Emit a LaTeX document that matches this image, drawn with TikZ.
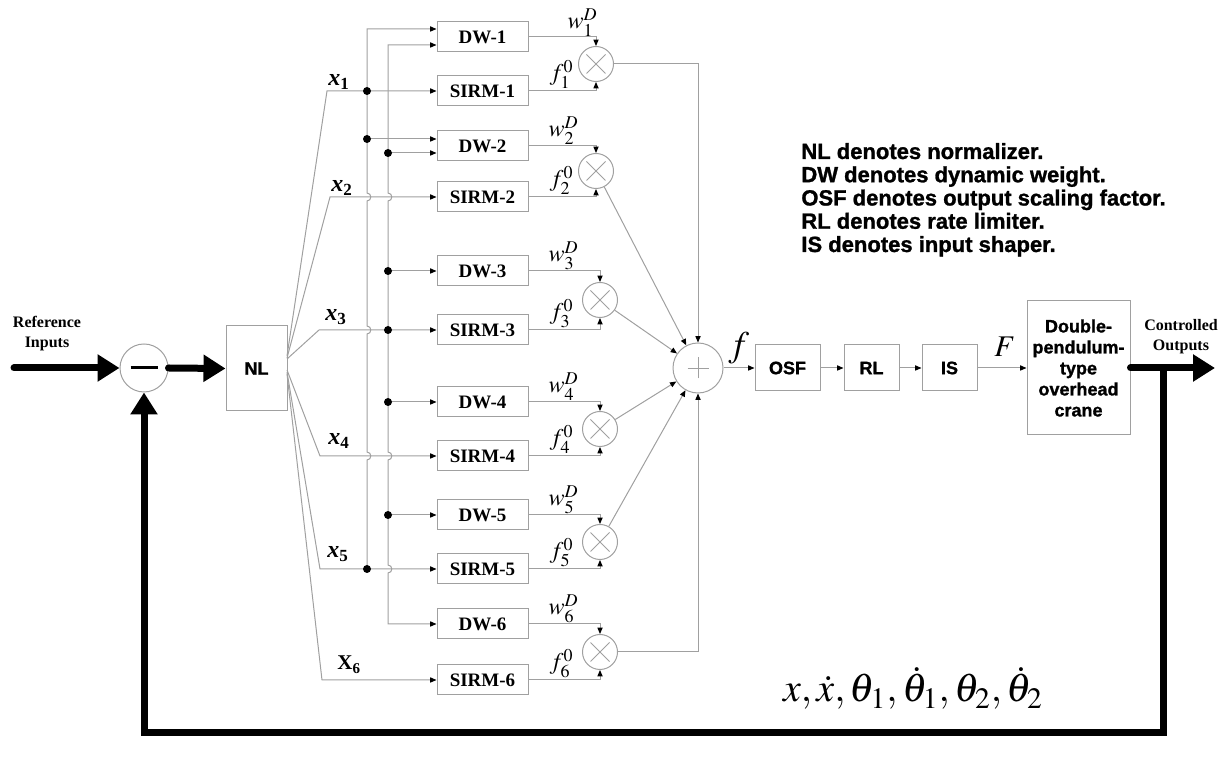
\documentclass[tikz,border=0pt]{standalone}
\usepackage{mathptmx}
\usepackage{fontspec}
\setmainfont{Liberation Serif}
\newfontfamily\heavy{Liberation Sans Bold}[FakeBold=1.2]
\usetikzlibrary{arrows.meta,calc}
\definecolor{lgray}{RGB}{160,160,160}
\newcommand{\xlab}[1]{{\fontsize{12}{12}\selectfont\bfseries\itshape x}\raisebox{-0.35ex}{\fontsize{8.5}{8.5}\selectfont\bfseries #1}}
\begin{document}
\begin{tikzpicture}[x=0.5pt,y=-0.5pt,
  ln/.style={draw=lgray, line width=0.5pt},
  arr/.style={ln, -{Triangle[length=3.2pt,width=2.6pt,color=black]}},
  darr/.style={ln, {Triangle[length=3.2pt,width=2.6pt,color=black]}-{Triangle[length=3.2pt,width=2.6pt,color=black]}},
  box/.style={draw=lgray, line width=0.5pt, minimum width=45.5pt, minimum height=15pt, inner sep=0pt, font=\fontsize{9.5}{11}\selectfont\bfseries},
  sbox/.style={draw=lgray, line width=0.5pt, inner sep=0pt, align=center, font=\heavy\fontsize{9}{10.5}\selectfont},
  mult/.style={circle, draw=lgray, line width=0.5pt, minimum size=17.5pt, inner sep=0pt,
    path picture={\draw[lgray,line width=0.4pt]
      ($(path picture bounding box.center)+(-4.75pt,-4.75pt)$) -- ($(path picture bounding box.center)+(4.75pt,4.75pt)$)
      ($(path picture bounding box.center)+(-4.75pt,4.75pt)$) -- ($(path picture bounding box.center)+(4.75pt,-4.75pt)$);}},
  sumc/.style={circle, draw=lgray, line width=0.5pt, minimum size=25pt, inner sep=0pt,
    path picture={\draw[lgray,line width=0.4pt]
      ($(path picture bounding box.center)+(-5.25pt,0pt)$) -- ($(path picture bounding box.center)+(5.25pt,0pt)$)
      ($(path picture bounding box.center)+(0pt,-5.25pt)$) -- ($(path picture bounding box.center)+(0pt,5.25pt)$);}},
  subc/.style={circle, draw=lgray, line width=0.5pt, minimum size=24pt, inner sep=0pt,
    path picture={\draw[black,line width=1.5pt]
      ($(path picture bounding box.center)+(-6.75pt,0pt)$) -- ($(path picture bounding box.center)+(6.75pt,0pt)$);}},
  thk/.style={draw=black, line width=3.5pt},
  thkarr/.style={thk, -{Triangle[length=11pt,width=13pt]}},
  wlab/.style={anchor=base east, inner sep=0pt, font=\fontsize{12}{12}\selectfont},
  xl/.style={anchor=base west, inner sep=0pt},
  legend/.style={anchor=base west, inner sep=0pt, font=\heavy\fontsize{11}{13}\selectfont},
  io/.style={align=center, inner sep=0pt, font=\fontsize{8}{10}\selectfont\bfseries}
]
\useasboundingbox (0,0) rectangle (1227,763);

% main blocks
\node[subc] (sub) at (144,368) {};
\node[sbox, minimum width=30.5pt, minimum height=42.5pt] (nl) at (256.5,368.5) {NL};

\foreach \k/\yd/\ys in {1/37/91, 2/146/197, 3/271/330, 4/402/456, 5/515/569, 6/624/680}{
  \node[box] (dw\k) at (482.5,\yd) {DW-\k};
  \node[box] (s\k) at (482.5,\ys) {SIRM-\k};
}
\foreach \k/\mx/\my in {1/596/64, 2/596/171, 3/600/300, 4/600/429, 5/600/542, 6/600/652}{
  \node[mult] (m\k) at (\mx,\my) {};
  \draw[arr] (dw\k.east) -| (m\k.north);
  \draw[arr] (s\k.east) -| (m\k.south);
}

% weight labels
\node[wlab] (w1) at (598,29) {$w^{D}_{1}$};
\node[wlab] (w2) at (579,137) {$w^{D}_{2}$};
\node[wlab] (w3) at (579,262) {$w^{D}_{3}$};
\node[wlab] (w4) at (579,393) {$w^{D}_{4}$};
\node[wlab] (w5) at (579,506) {$w^{D}_{5}$};
\node[wlab] (w6) at (579,615) {$w^{D}_{6}$};
\node[wlab] (g1) at (574,81) {$f^{0}_{1}$};
\node[wlab] (g2) at (574,187) {$f^{0}_{2}$};
\node[wlab] (g3) at (574,320) {$f^{0}_{3}$};
\node[wlab] (g4) at (574,446) {$f^{0}_{4}$};
\node[wlab] (g5) at (574,559) {$f^{0}_{5}$};
\node[wlab] (g6) at (574,670) {$f^{0}_{6}$};

% summation
\node[sumc] (sum) at (698,368) {};
\draw[arr] (m1.east) -| (sum.north);
\draw[arr] (m6.east) -| (sum.south);
\draw[arr] (m2) -- (sum);
\draw[arr] (m3) -- (sum);
\draw[arr] (m4) -- (sum);
\draw[arr] (m5) -- (sum);

% downstream chain
\node[sbox, minimum width=32.5pt, minimum height=23pt] (osf) at (787.5,368) {OSF};
\node[sbox, minimum width=27.5pt, minimum height=23pt] (rl) at (871.5,368) {RL};
\node[sbox, minimum width=27.5pt, minimum height=23pt] (is) at (949.5,368) {IS};
\node[sbox, minimum width=51.5pt, minimum height=67pt] (crane) at (1078.5,368) {Double-\\pendulum-\\type\\overhead\\crane};
\draw[arr] (sum.east) -- (osf.west);
\draw[arr] (osf.east) -- (rl.west);
\draw[arr] (rl.east) -- (is.west);
\draw[arr] (is.east) -- (crane.west);
\node[anchor=base west, inner sep=0pt] (flab) at (728,357) {\fontsize{18}{18}\selectfont$f$};
\node[anchor=base west, inner sep=0pt] (Flab) at (994,357) {\fontsize{15}{15}\selectfont$F$};

% NL fan-out lines
\coordinate (fan1) at (287,356); \coordinate (xc1) at (327,91);
\coordinate (fan2) at (287,358); \coordinate (xc2) at (330,197);
\coordinate (fan3) at (287,359); \coordinate (xc3) at (319,330);
\coordinate (fan4) at (287,370); \coordinate (xc4) at (320,456);
\coordinate (fan5) at (287,372); \coordinate (xc5) at (320,569);
\coordinate (fan6) at (287,374); \coordinate (xc6) at (322,680);
\draw[arr] (fan1) -- (xc1) -- (s1.west);
\draw[arr] (fan2) -- (xc2) -- (s2.west);
\draw[arr] (fan3) -- (xc3) -- (s3.west);
\draw[arr] (fan4) -- (xc4) -- (s4.west);
\draw[arr] (fan5) -- (xc5) -- (s5.west);
\draw[arr] (fan6) -- (xc6) -- (s6.west);
\node[xl] (xl1) at (328,86) {\xlab{1}};
\node[xl] (xl2) at (331,192) {\xlab{2}};
\node[xl] (xl3) at (325,321) {\xlab{3}};
\node[xl] (xl4) at (328,445) {\xlab{4}};
\node[xl] (xl5) at (327,558) {\xlab{5}};
\node[xl] (xl6) at (337,670) {{\fontsize{10.5}{10.5}\selectfont\bfseries X}\raisebox{-0.35ex}{\fontsize{7.5}{7.5}\selectfont\bfseries 6}};

% buses
\coordinate (dw1a) at ($(dw1.west)+(0,-8)$);
\coordinate (dw1b) at ($(dw1.west)+(0,8)$);
\coordinate (dw2a) at ($(dw2.west)+(0,-7)$);
\coordinate (dw2b) at ($(dw2.west)+(0,7)$);
\coordinate (aBot) at (367,569);
\coordinate (aTop) at (367,29);
\coordinate (bTop) at (388,45);
\coordinate (bBot) at (388,624);
\draw[arr] (aBot) -- (367,460) .. controls (372,460) and (372,452) .. (367,452)
  -- (367,334) .. controls (372,334) and (372,326) .. (367,326)
  -- (367,201) .. controls (372,201) and (372,193) .. (367,193)
  -- (aTop) -- (dw1a);
\draw[darr] (dw1b) -- (bTop) -- (388,193) .. controls (393,193) and (393,201) .. (388,201)
  -- (388,452) .. controls (393,452) and (393,460) .. (388,460)
  -- (388,565) .. controls (393,565) and (393,573) .. (388,573)
  -- (bBot) -- (dw6.west);
\coordinate (dA1) at (367,91);
\coordinate (dA2) at (367,139);
\coordinate (dB2) at (388,153);
\coordinate (dB3) at (388,271);
\coordinate (dB33) at (388,330);
\coordinate (dB4) at (388,402);
\coordinate (dB5) at (388,515);
\draw[arr] (dA2) -- (dw2a);
\draw[arr] (dB2) -- (dw2b);
\draw[arr] (dB3) -- (dw3.west);
\draw[arr] (dB4) -- (dw4.west);
\draw[arr] (dB5) -- (dw5.west);
\foreach \c in {dA1,dA2,aBot,dB2,dB3,dB33,dB4,dB5}{\fill[black] (\c) circle[radius=2pt];}

% thick signal lines
\coordinate (refin) at (14,368);
\coordinate (outend) at (1215,368);
\coordinate (fbtop) at (1163,368);
\coordinate (fbR) at (1163,733);
\coordinate (fbL) at (144,733);
\draw[thkarr, line cap=round] (refin) -- (sub.west);
\draw[thkarr, line cap=round] (sub.east) -- (nl.west);
\draw[thkarr, line cap=round] (crane.east) -- (outend);
\draw[thkarr, line join=miter] (fbtop) -- (fbR) -- (fbL) -- (sub.south);

\node[io] (refl) at (47,334) {Reference\\Inputs};
\node[io] (outl) at (1181,337) {Controlled\\Outputs};
\node[anchor=base, inner sep=0pt] (fbl) at (913,702) {\fontsize{20}{20}\selectfont$x,\dot{x},\theta_1,\dot{\theta}_1,\theta_2,\dot{\theta}_2$};

% legend
\node[legend] (lg1) at (801,159) {NL denotes normalizer.};
\node[legend] (lg2) at (801,182.25) {DW denotes dynamic weight.};
\node[legend] (lg3) at (801,205.5) {OSF denotes output scaling factor.};
\node[legend] (lg4) at (801,228.75) {RL denotes rate limiter.};
\node[legend] (lg5) at (801,252) {IS denotes input shaper.};
\end{tikzpicture}
\end{document}
